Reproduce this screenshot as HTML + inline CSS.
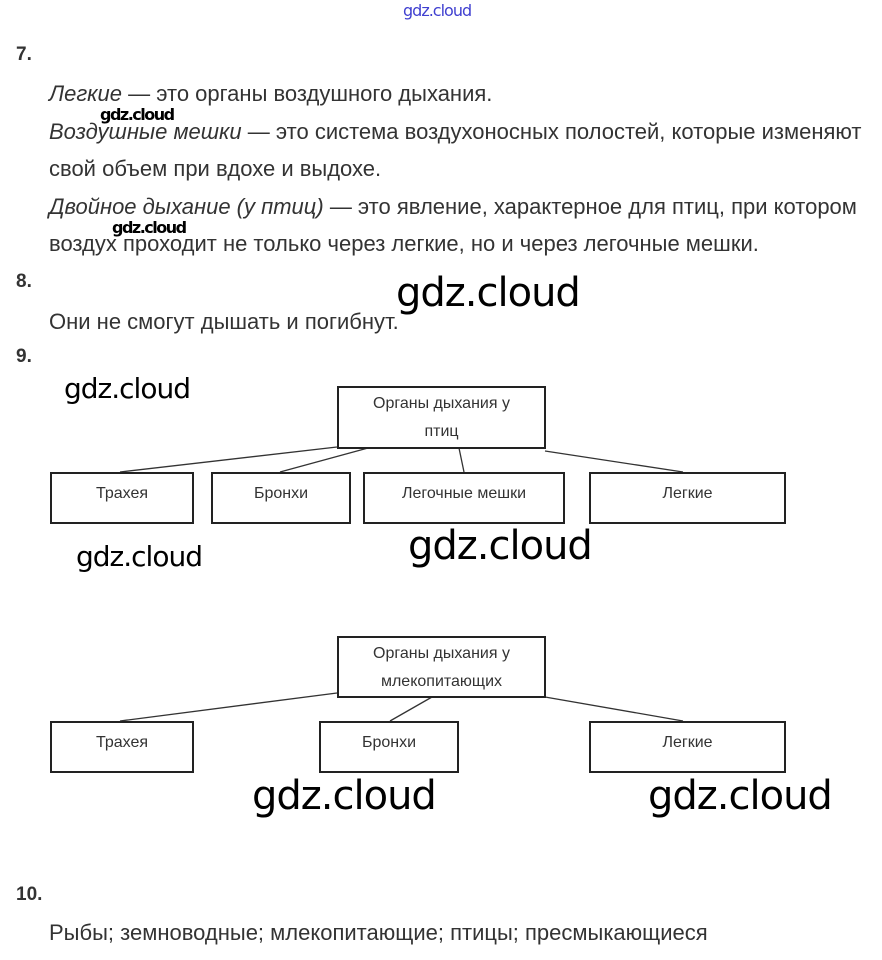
<!DOCTYPE html>
<html><head><meta charset="utf-8"><style>
body{margin:0;width:882px;height:960px;background:#fff;position:relative;overflow:hidden;font-family:"Liberation Sans",sans-serif;color:#333}
.t{position:absolute;font-size:22px;white-space:nowrap;line-height:24px}
.n{position:absolute;font-size:19px;font-weight:bold;color:#333}
.w{position:absolute;font-family:"DejaVu Sans","Liberation Sans",sans-serif;color:#000;white-space:nowrap;letter-spacing:-1px}
.b{position:absolute;border:2px solid #222;box-sizing:border-box;font-size:16px;color:#333;text-align:center;line-height:28px}
svg{position:absolute;left:0;top:0}
</style></head><body>
<div class="w" style="left:403px;top:1px;font-size:16px;color:#4040d0">gdz.cloud</div>
<div class="n" style="left:16px;top:44px">7.</div>
<div class="t" style="left:49px;top:82px"><i>Легкие</i> — это органы воздушного дыхания.</div>
<div class="t" style="left:49px;top:120px"><i>Воздушные мешки</i> — это система воздухоносных полостей, которые изменяют</div>
<div class="t" style="left:49px;top:157px">свой объем при вдохе и выдохе.</div>
<div class="t" style="left:49px;top:195px"><i>Двойное дыхание (у птиц)</i> — это явление, характерное для птиц, при котором</div>
<div class="t" style="left:49px;top:232px">воздух проходит не только через легкие, но и через легочные мешки.</div>
<div class="w" style="left:100px;top:105px;font-size:16px;font-weight:bold;letter-spacing:-1.5px">gdz.cloud</div>
<div class="w" style="left:112px;top:218px;font-size:16px;font-weight:bold;letter-spacing:-1.5px">gdz.cloud</div>
<div class="n" style="left:16px;top:271px">8.</div>
<div class="t" style="left:49px;top:310px">Они не смогут дышать и погибнут.</div>
<div class="w" style="left:396px;top:270px;font-size:40px">gdz.cloud</div>
<div class="n" style="left:16px;top:346px">9.</div>
<div class="w" style="left:64px;top:372px;font-size:28px">gdz.cloud</div>
<svg width="882" height="960"><g stroke="#333" stroke-width="1.3">
<line x1="337" y1="447" x2="120" y2="472"/><line x1="368" y1="448" x2="280" y2="472"/>
<line x1="459" y1="448" x2="464" y2="472"/><line x1="545" y1="451" x2="683" y2="472"/>
<line x1="337" y1="693" x2="120" y2="721"/><line x1="432" y1="697" x2="390" y2="721"/>
<line x1="545" y1="697" x2="683" y2="721"/></g></svg>
<div class="b" style="left:337px;top:386px;width:209px;height:63px;padding-top:2px">Органы дыхания у<br>птиц</div>
<div class="b" style="left:50px;top:472px;width:144px;height:52px;padding-top:6px">Трахея</div>
<div class="b" style="left:211px;top:472px;width:140px;height:52px;padding-top:6px">Бронхи</div>
<div class="b" style="left:363px;top:472px;width:202px;height:52px;padding-top:6px">Легочные мешки</div>
<div class="b" style="left:589px;top:472px;width:197px;height:52px;padding-top:6px">Легкие</div>
<div class="w" style="left:76px;top:540px;font-size:28px">gdz.cloud</div>
<div class="w" style="left:408px;top:523px;font-size:40px">gdz.cloud</div>
<div class="b" style="left:337px;top:636px;width:209px;height:62px;padding-top:2px">Органы дыхания у<br>млекопитающих</div>
<div class="b" style="left:50px;top:721px;width:144px;height:52px;padding-top:6px">Трахея</div>
<div class="b" style="left:319px;top:721px;width:140px;height:52px;padding-top:6px">Бронхи</div>
<div class="b" style="left:589px;top:721px;width:197px;height:52px;padding-top:6px">Легкие</div>
<div class="w" style="left:252px;top:773px;font-size:40px">gdz.cloud</div>
<div class="w" style="left:648px;top:773px;font-size:40px">gdz.cloud</div>
<div class="n" style="left:16px;top:884px">10.</div>
<div class="t" style="left:49px;top:921px">Рыбы; земноводные; млекопитающие; птицы; пресмыкающиеся</div>
</body></html>
